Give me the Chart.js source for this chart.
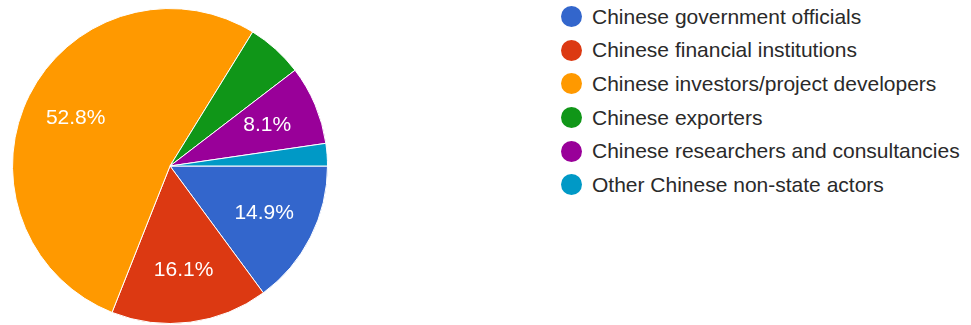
<!DOCTYPE html>
<html>
<head>
<meta charset="utf-8">
<script src="https://cdn.jsdelivr.net/npm/chart.js@4"></script>
<style>
  html, body { margin: 0; padding: 0; background: #fff; }
  body { width: 971px; height: 325px; position: relative; overflow: hidden; }
  #pieWrap { position: absolute; left: 0; top: 0; width: 340px; height: 325px; }
  #legend { position: absolute; left: 561px; top: 0; margin: 0; padding: 0; list-style: none;
            font-family: "Liberation Sans", Arial, sans-serif; font-size: 21px; color: #2a2a2a; }
  #legend li { height: 33.6px; display: flex; align-items: center; white-space: nowrap; }
  #legend .dot { width: 21px; height: 21px; border-radius: 50%; margin-right: 10px; flex: none; }
</style>
</head>
<body>
<div id="pieWrap"><canvas id="pie" width="340" height="325"></canvas></div>
<ul id="legend"></ul>
<script>
// answer categories and their shares (percent)
const categories = [
    'Chinese government officials',
    'Chinese financial institutions',
    'Chinese investors/project developers',
    'Chinese exporters',
    'Chinese researchers and consultancies',
    'Other Chinese non-state actors'
];
const shares = [14.9, 16.1, 52.8, 5.8, 8.1, 2.3];
const colors = ['#3366cc', '#dc3912', '#ff9900', '#109618', '#990099', '#0099c6'];

// slices below this share get no percentage label
const labelMin = 7;

// legend
const legend = document.getElementById('legend');
categories.forEach((name, i) => {
    legend.insertAdjacentHTML('beforeend',
        `<li><span class="dot" style="background:${colors[i]}"></span>${name}</li>`);
});

// percentage text inside the larger slices
const sliceLabels = {
    id: 'sliceLabels',
    afterDatasetsDraw(chart) {
        const ctx = chart.ctx;
        const meta = chart.getDatasetMeta(0);
        ctx.save();
        ctx.fillStyle = '#fff';
        ctx.font = '21px "Liberation Sans", Arial, sans-serif';
        ctx.textAlign = 'center';
        ctx.textBaseline = 'middle';
        meta.data.forEach((arc, i) => {
            if (shares[i] < labelMin) return;
            const p = arc.getProps(['x', 'y', 'startAngle', 'endAngle', 'outerRadius'], true);
            const mid = (p.startAngle + p.endAngle) / 2;
            const r = p.outerRadius * 0.67;
            ctx.fillText(shares[i].toFixed(1) + '%', p.x + Math.cos(mid) * r, p.y + Math.sin(mid) * r);
        });
        ctx.restore();
    }
};

new Chart(document.getElementById('pie').getContext('2d'), {
    type: 'pie',
    data: {
        labels: categories,
        datasets: [{
            data: shares,
            backgroundColor: colors,
            borderColor: '#fff',
            borderWidth: 1
        }]
    },
    options: {
        responsive: false,
        animation: false,
        rotation: 90,
        layout: { padding: { top: 8, bottom: 1, left: 0, right: 0 } },
        plugins: {
            legend: { display: false },
            tooltip: { enabled: false }
        }
    },
    plugins: [sliceLabels]
});
</script>
</body>
</html>
